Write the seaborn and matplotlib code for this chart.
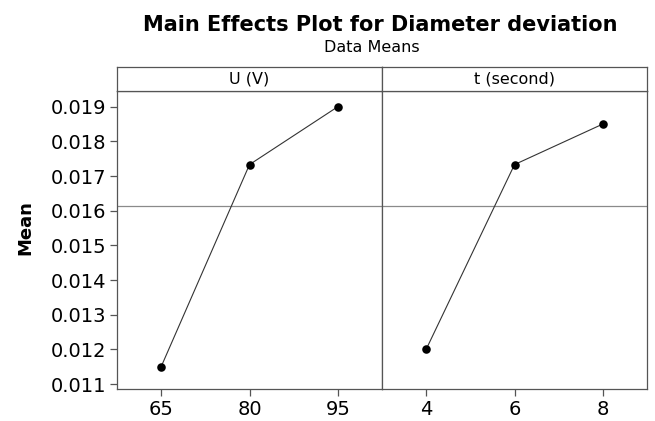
import matplotlib
matplotlib.use("Agg")
import matplotlib.pyplot as plt
import seaborn as sns
import pandas as pd

# Data
u_levels = [65, 80, 95]
u_means = [0.01150, 0.01733, 0.01900]
t_levels = [4, 6, 8]
t_means = [0.01200, 0.01733, 0.01850]
grand_mean = 0.016144
panel_titles = ["U (V)", "t (second)"]
y_ticks = [0.011, 0.012, 0.013, 0.014, 0.015, 0.016, 0.017, 0.018, 0.019]

sns.set_style("white")
plt.rcParams['font.family'] = ['DejaVu Sans']
plt.rcParams['text.color'] = 'black'
plt.rcParams['xtick.color'] = 'black'
plt.rcParams['ytick.color'] = 'black'

W, H = 655, 421
fig = plt.figure(figsize=(W / 100, H / 100), dpi=100)

left, mid, right = 117, 382, 647
top_hdr, bot_hdr, bottom = 67, 91, 389

def fx(px):
    return px / W

def fy(py):
    return 1 - py / H

frame_col = "#555555"

panels = [(u_levels, u_means, panel_titles[0], left, mid),
          (t_levels, t_means, panel_titles[1], mid, right)]

for i, (lv, mn, ttl, x0, x1) in enumerate(panels):
    ax = fig.add_axes([fx(x0), fy(bottom), fx(x1) - fx(x0), fy(bot_hdr) - fy(bottom)])
    df = pd.DataFrame({"x": lv, "y": mn})
    ax.axhline(grand_mean, color="#8a8a8a", lw=0.9, zorder=1)
    sns.lineplot(data=df, x="x", y="y", ax=ax, color="#333333", lw=0.8, zorder=2)
    sns.scatterplot(data=df, x="x", y="y", ax=ax, color="black", s=38,
                    edgecolor="black", linewidth=0, zorder=3)
    step = lv[1] - lv[0]
    ax.set_xlim(lv[0] - step / 2, lv[-1] + step / 2)
    ax.set_ylim(0.010856, 0.019453)
    ax.set_xticks(lv)
    ax.set_xticklabels([str(v) for v in lv])
    ax.set_xlabel("")
    ax.set_ylabel("")
    for s in ax.spines.values():
        s.set_color(frame_col)
        s.set_linewidth(0.9)
    ax.tick_params(axis="x", direction="out", length=5, width=0.9, color=frame_col,
                   labelcolor="black", labelsize=14, pad=3, bottom=True)
    ax.set_yticks(y_ticks)
    if i == 0:
        ax.set_yticklabels([f"{v:.3f}" for v in y_ticks])
        ax.tick_params(axis="y", direction="out", length=5, width=0.9, color=frame_col,
                       labelcolor="black", labelsize=14, pad=3, left=True)
    else:
        ax.tick_params(axis="y", left=False, labelleft=False)

    hdr = fig.add_axes([fx(x0), fy(bot_hdr), fx(x1) - fx(x0), fy(top_hdr) - fy(bot_hdr)])
    hdr.set_xticks([])
    hdr.set_yticks([])
    for s in hdr.spines.values():
        s.set_color(frame_col)
        s.set_linewidth(0.9)
    hdr.text(0.5, 0.5, ttl, ha="center", va="center", fontsize=11.5,
             color="black", transform=hdr.transAxes)

fig.text(fx(25), fy(228), "Mean", rotation=90, ha="center", va="center",
         fontsize=13, fontweight="bold", color="black")
fig.text(fx(380), fy(25), "Main Effects Plot for Diameter deviation", ha="center",
         va="center", fontsize=15, fontweight="bold", color="black")
fig.text(fx(372), fy(48), "Data Means", ha="center", va="center", fontsize=11.5,
         color="black")

fig.savefig("out.png", dpi=100)
